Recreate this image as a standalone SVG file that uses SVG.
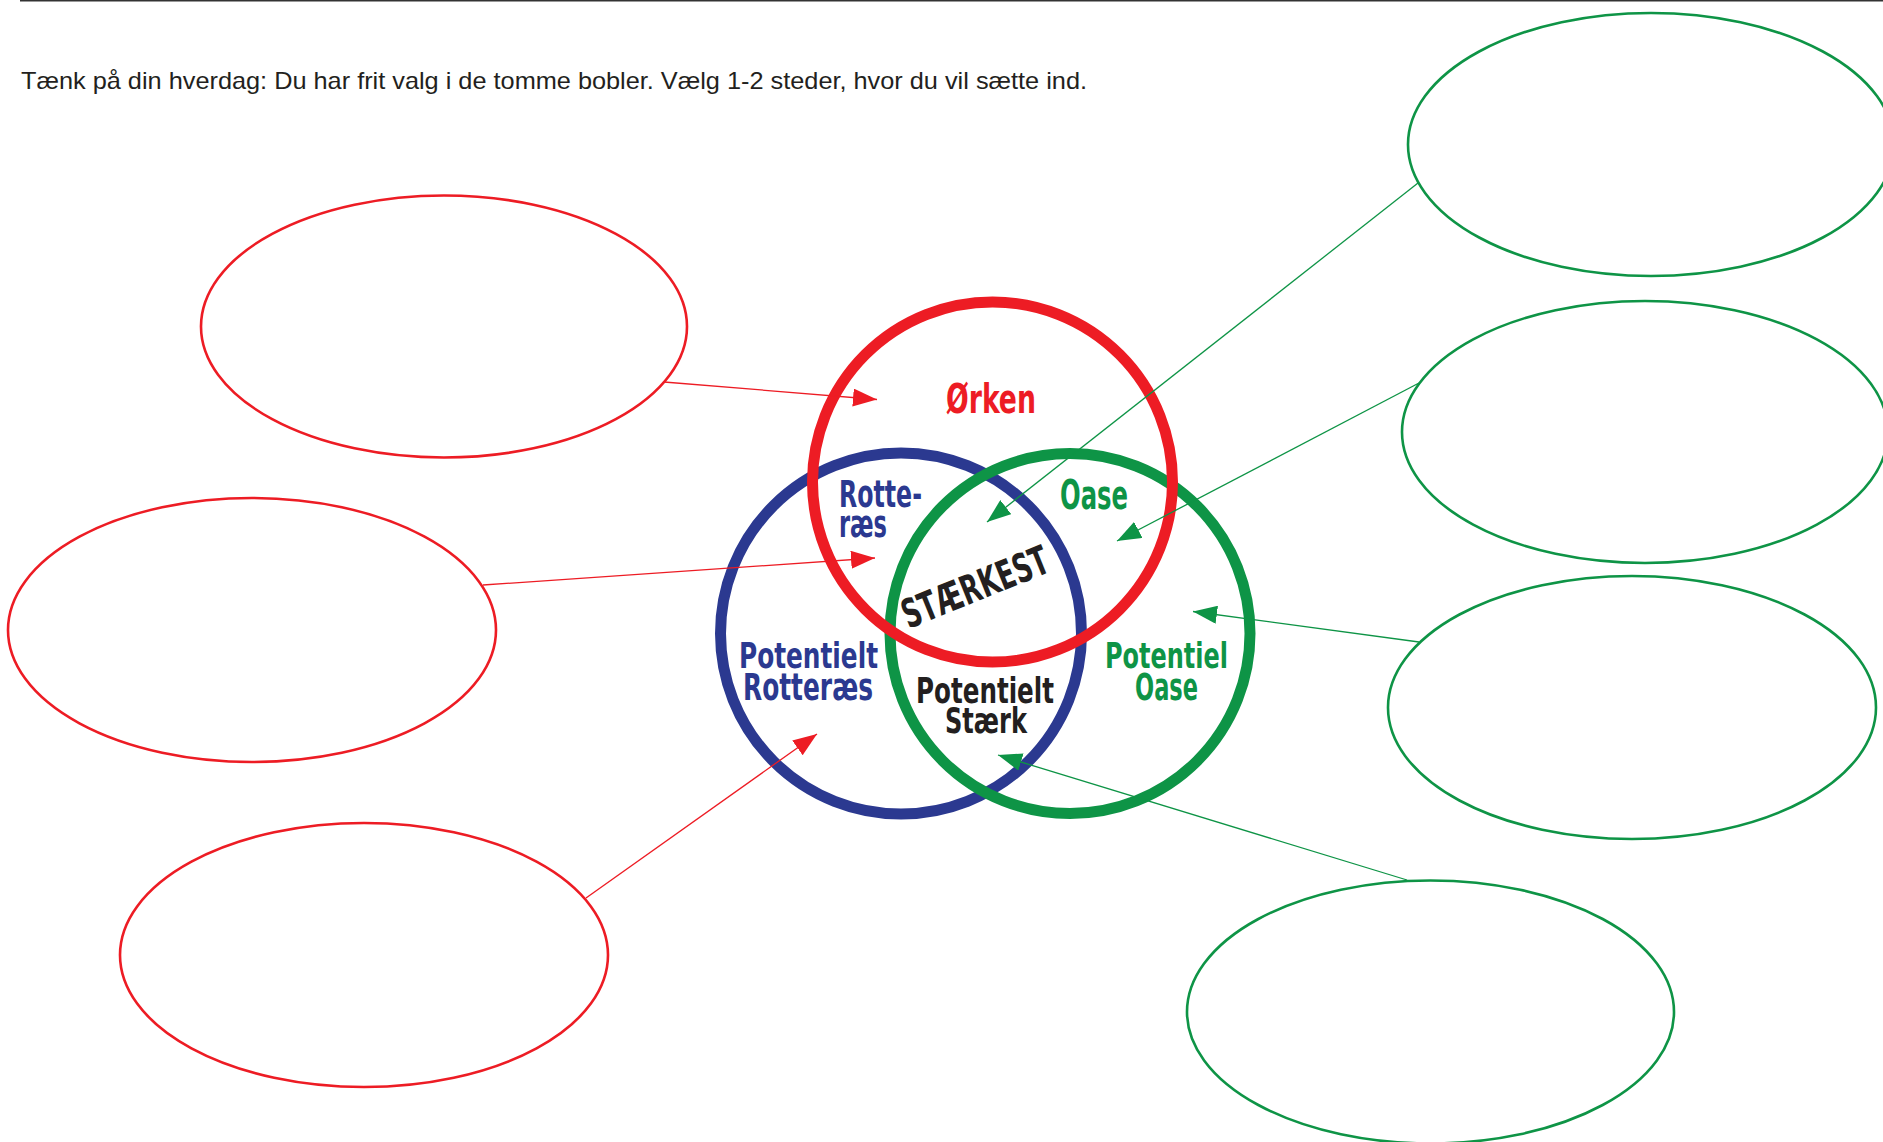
<svg xmlns="http://www.w3.org/2000/svg" width="1883" height="1142" viewBox="0 0 1883 1142">
  <style>
    .bubble { fill: none; stroke-width: 2.6; }
    .red { stroke: #ED1C24; }
    .green { stroke: #0E9446; }
    .ring { fill: none; stroke-width: 11; }
    .conn { fill: none; stroke-width: 1.3; }
    .hand { font-family: "DejaVu Sans Condensed", "DejaVu Sans", sans-serif; font-weight: bold; }
    .head { font-family: "Liberation Sans", Arial, sans-serif; font-size: 24px; fill: #231F20; }
  </style>
  <defs>
    <marker id="arrow-red" markerUnits="userSpaceOnUse" markerWidth="24" markerHeight="18" refX="24" refY="9" orient="auto">
      <path d="M0,0 L24,9 L0,18 Z" fill="#ED1C24"/>
    </marker>
    <marker id="arrow-green" markerUnits="userSpaceOnUse" markerWidth="24" markerHeight="18" refX="24" refY="9" orient="auto">
      <path d="M0,0 L24,9 L0,18 Z" fill="#0E9446"/>
    </marker>
  </defs>

  <rect width="1883" height="1142" fill="#FFFFFF"/>

  <!-- header rule and instruction -->
  <line x1="20" y1="0.75" x2="1883" y2="0.75" stroke="#333333" stroke-width="1.5"/>
  <text class="head" x="21" y="89" textLength="1066" lengthAdjust="spacingAndGlyphs">Tænk på din hverdag: Du har frit valg i de tomme bobler. Vælg 1-2 steder, hvor du vil sætte ind.</text>

  <!-- empty answer bubbles, left (red) -->
  <g id="bubble-left-1"><ellipse class="bubble red" cx="444" cy="326.5" rx="243" ry="131"/></g>
  <g id="bubble-left-2"><ellipse class="bubble red" cx="252" cy="630" rx="244" ry="132"/></g>
  <g id="bubble-left-3"><ellipse class="bubble red" cx="364" cy="955" rx="244" ry="132"/></g>

  <!-- empty answer bubbles, right (green) -->
  <g id="bubble-right-1"><ellipse class="bubble green" cx="1651" cy="144.5" rx="243" ry="131.5"/></g>
  <g id="bubble-right-2"><ellipse class="bubble green" cx="1645" cy="432" rx="243" ry="131"/></g>
  <g id="bubble-right-3"><ellipse class="bubble green" cx="1632" cy="707.5" rx="244" ry="131.5"/></g>
  <g id="bubble-right-4"><ellipse class="bubble green" cx="1430.5" cy="1012" rx="243.5" ry="131.5"/></g>

  <!-- Venn rings: blue under green, red on top -->
  <g id="ring-rotteraes"><circle class="ring" cx="901" cy="633.5" r="180.5" stroke="#2B3990"/></g>
  <g id="ring-oase"><circle class="ring" cx="1070" cy="633.5" r="180" stroke="#0E9446"/></g>
  <g id="ring-orken"><circle class="ring" cx="992.5" cy="482" r="180" stroke="#ED1C24"/></g>

  <!-- region labels -->
  <g id="label-orken"><text class="hand" x="946" y="413" font-size="40" fill="#ED1C24" textLength="90" lengthAdjust="spacingAndGlyphs">Ørken</text></g>
  <g id="label-rotteraes" fill="#2B3990">
    <text class="hand" x="839" y="507" font-size="37" textLength="83" lengthAdjust="spacingAndGlyphs">Rotte-</text>
    <text class="hand" x="839" y="537" font-size="37" textLength="48" lengthAdjust="spacingAndGlyphs">ræs</text>
  </g>
  <g id="label-oase"><text class="hand" x="1060" y="508.5" font-size="40" fill="#0E9446" textLength="68" lengthAdjust="spacingAndGlyphs">Oase</text></g>
  <g id="label-staerkest"><text class="hand" transform="translate(975,587) rotate(-22)" x="0" y="14" text-anchor="middle" font-size="40" fill="#231F20" textLength="155" lengthAdjust="spacingAndGlyphs">STÆRKEST</text></g>
  <g id="label-potentielt-rotteraes" fill="#2B3990">
    <text class="hand" x="739" y="668" font-size="36" textLength="139" lengthAdjust="spacingAndGlyphs">Potentielt</text>
    <text class="hand" x="743" y="700" font-size="38" textLength="130" lengthAdjust="spacingAndGlyphs">Rotteræs</text>
  </g>
  <g id="label-potentielt-staerk" fill="#231F20">
    <text class="hand" x="916" y="703" font-size="36" textLength="138" lengthAdjust="spacingAndGlyphs">Potentielt</text>
    <text class="hand" x="945" y="733" font-size="36" textLength="82" lengthAdjust="spacingAndGlyphs">Stærk</text>
  </g>
  <g id="label-potentiel-oase" fill="#0E9446">
    <text class="hand" x="1105" y="667.5" font-size="36" textLength="123" lengthAdjust="spacingAndGlyphs">Potentiel</text>
    <text class="hand" x="1135" y="699.5" font-size="38" textLength="63" lengthAdjust="spacingAndGlyphs">Oase</text>
  </g>

  <!-- connectors from bubbles into the rings -->
  <g id="connectors">
    <line class="conn" x1="664" y1="382" x2="877" y2="399.5" stroke="#ED1C24" marker-end="url(#arrow-red)"/>
    <line class="conn" x1="483" y1="585" x2="875" y2="558" stroke="#ED1C24" marker-end="url(#arrow-red)"/>
    <line class="conn" x1="586" y1="898" x2="817" y2="734" stroke="#ED1C24" marker-end="url(#arrow-red)"/>
    <line class="conn" x1="1418" y1="183" x2="987" y2="522" stroke="#0E9446" marker-end="url(#arrow-green)"/>
    <line class="conn" x1="1419" y1="383" x2="1117" y2="541" stroke="#0E9446" marker-end="url(#arrow-green)"/>
    <line class="conn" x1="1419" y1="642" x2="1193" y2="611.5" stroke="#0E9446" marker-end="url(#arrow-green)"/>
    <line class="conn" x1="1407" y1="880" x2="998" y2="755" stroke="#0E9446" marker-end="url(#arrow-green)"/>
  </g>
</svg>
